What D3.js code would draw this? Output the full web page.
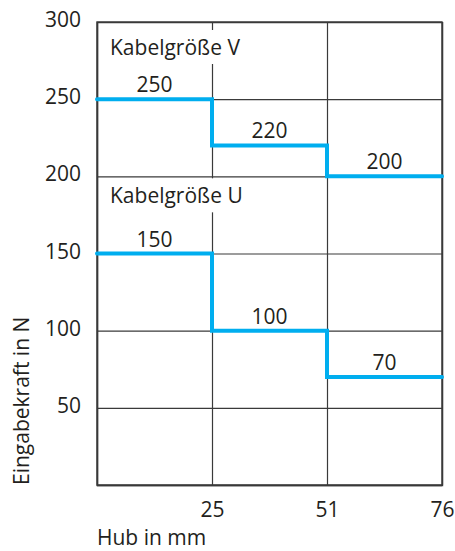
<!DOCTYPE html>
<html>
<head>
<meta charset="utf-8">
<script src="https://cdn.jsdelivr.net/npm/d3@7"></script>
<style>
  body { margin: 0; background: #fff; }
  svg text { font-family: "Open Sans", sans-serif; fill: #231f20; }
</style>
</head>
<body>
<div id="container"></div>
<script>
// data
const hubTicks = ["0", "25", "51", "76"];
const kraftTicks = [50, 100, 150, 200, 250, 300];
const seriesNames = ["Kabelgröße V", "Kabelgröße U"];
const kraftV = [250, 220, 200];
const kraftU = [150, 100, 70];

let w = 455;
let h = 551;
let m = { left: 97, right: 13, top: 22, bottom: 66 };
let iw = w - m.left - m.right;
let ih = h - m.top - m.bottom;
let fs = "21px";

let svg = d3.select("#container")
  .append("svg")
    .attr("width", w)
    .attr("height", h);

let g = svg.append("g").attr("transform", `translate(${m.left},${m.top})`);

let x = d3.scalePoint().domain(hubTicks).range([0, iw]);
let y = d3.scaleLinear().domain([0, 300]).range([ih, 0]);

// grid + axes
let yAxis = g.append("g")
  .call(d3.axisLeft(y).tickValues(kraftTicks).tickSize(-iw).tickPadding(16));
let xAxis = g.append("g")
  .attr("transform", `translate(0,${ih})`)
  .call(d3.axisBottom(x).tickValues(hubTicks.slice(1)).tickSize(-ih).tickPadding(17));

[yAxis, xAxis].forEach(a => {
  a.attr("font-size", null).attr("font-family", null);
  a.selectAll("line").attr("stroke", "#3a3a3a").attr("stroke-width", 1.2);
  a.select(".domain").attr("stroke", "#3a3a3a").attr("stroke-width", 1.4);
  a.selectAll("text").style("font-size", fs).attr("fill", "#231f20");
});
yAxis.selectAll("text").attr("dy", "0.22em");

g.append("rect")
  .attr("width", iw).attr("height", ih)
  .attr("fill", "none").attr("stroke", "#3a3a3a").attr("stroke-width", 1.4);

// series labels with white boxes over grid
let nameY = [y(300) + 33, y(200) + 27];
seriesNames.forEach((n, i) => {
  let t = g.append("text")
    .attr("x", 13).attr("y", nameY[i])
    .style("font-size", fs)
    .text(n);
  let b = t.node().getBBox();
  g.insert("rect", () => t.node())
    .attr("x", b.x - 2).attr("y", b.y - 3)
    .attr("width", b.width + 4).attr("height", b.height + 6)
    .attr("fill", "#fff");
});

// step lines
let line = d3.line()
  .x(d => x(d[0]))
  .y(d => y(d[1]))
  .curve(d3.curveStepAfter);

[kraftV, kraftU].forEach(vals => {
  let pts = vals.map((v, i) => [hubTicks[i], v]);
  pts.push([hubTicks[hubTicks.length - 1], vals[vals.length - 1]]);
  g.append("path")
    .attr("d", line(pts))
    .attr("fill", "none")
    .attr("stroke", "#00aeef")
    .attr("stroke-width", 4)
    .attr("stroke-linecap", "round");

  vals.forEach((v, i) => {
    g.append("text")
      .attr("x", (x(hubTicks[i]) + x(hubTicks[i + 1])) / 2)
      .attr("y", y(v) - 7)
      .attr("text-anchor", "middle")
      .style("font-size", fs)
      .text(v);
  });
});

// axis titles
svg.append("text")
  .attr("transform", `translate(29,${m.top + ih}) rotate(-90)`)
  .style("font-size", fs)
  .text("Eingabekraft in N");

svg.append("text")
  .attr("x", m.left).attr("y", 545)
  .style("font-size", fs)
  .text("Hub in mm");
</script>
</body>
</html>
